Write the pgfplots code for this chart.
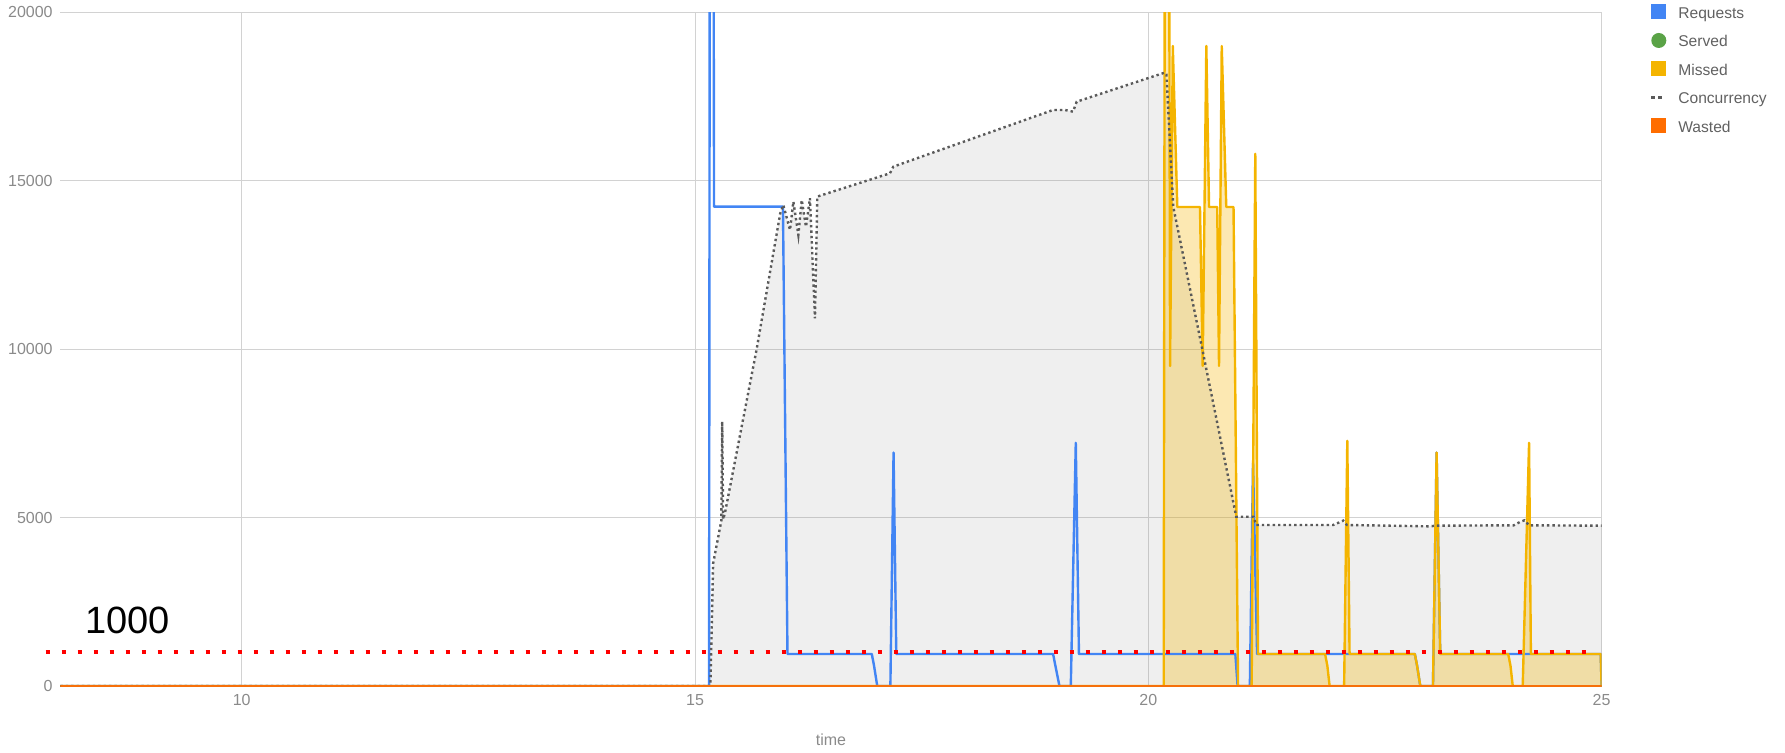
\documentclass[border=0pt]{standalone}
\usepackage{fontspec}
\setmainfont{Liberation Sans}
\usepackage{pgfplots}
\usepackage{pgfplotstable}
\pgfplotsset{compat=1.18}

\definecolor{reqblue}{HTML}{4285F4}
\definecolor{servgreen}{HTML}{5AA347}
\definecolor{missyellow}{HTML}{F4B400}
\definecolor{concgray}{HTML}{5A5A5A}
\definecolor{wasteorange}{HTML}{FF6D00}
\definecolor{gridgray}{HTML}{D2D2D2}
\definecolor{ticktext}{HTML}{8A8A8A}
\definecolor{legtext}{HTML}{616161}

% Requests per time step
\pgfplotstableread{
t v
8 0
15.155 0
15.165 30000
15.2 30000
15.21 14230
15.97 14230
16.02 950
16.95 950
16.975 600
17.01 0
17.155 0
17.19 6930
17.22 950
18.95 950
18.975 600
19.02 0
19.145 0
19.2 7220
19.235 950
20.96 950
20.985 0
21.12 0
21.155 6620
21.2 950
22.94 950
22.965 600
23.0 0
23.14 0
23.18 6930
23.22 950
24.99 950
25 0
}\requests

% Missed requests
\pgfplotstableread{
t v
8 0
20.17 0
20.185 30000
20.225 30000
20.24 9500
20.27 19000
20.32 14220
20.57 14220
20.6 9500
20.64 19000
20.67 14220
20.76 14220
20.78 9500
20.81 19000
20.86 14220
20.94 14220
20.99 0
21.14 0
21.18 15800
21.21 950
21.95 950
21.975 600
22.0 0
22.16 0
22.195 7280
22.22 950
22.94 950
22.965 600
23.0 0
23.14 0
23.18 6930
23.22 950
23.97 950
23.995 600
24.02 0
24.13 0
24.2 7220
24.22 950
24.99 950
25 0
}\missed

% Concurrency
\pgfplotstableread{
t v
8 0
15.17 0
15.2 3640
15.29 4900
15.3 7850
15.31 4950
15.33 5130
15.68 10000
15.94 14030
15.974 14280
16.048 13540
16.085 14380
16.14 13390
16.177 14430
16.224 13635
16.268 14480
16.323 10915
16.349 14530
17.15 15220
17.187 15417
18.95 17100
19.08 17100
19.17 17050
19.21 17346
20.18 18208
20.2 18150
20.275 14229
20.59 10073
20.97 5026
21.16 5026
21.19 4780
22.04 4780
22.1 4850
22.15 4910
22.19 4780
23.1 4740
23.18 4760
24.03 4770
24.1 4870
24.15 4920
24.2 4770
25 4760
}\concurrency

\begin{document}
\begin{tikzpicture}
\useasboundingbox (-30.2pt,-33pt) rectangle (862.3pt,343pt);
\begin{axis}[
  at={(0pt,0pt)}, anchor=south west, scale only axis,
  width=770.6pt, height=336.85pt,
  xmin=8, xmax=25, ymin=0, ymax=20000,
  xtick={10,15,20,25}, ytick={0,5000,10000,15000,20000},
  grid=major, major grid style={gridgray, line width=0.5pt},
  axis line style={draw=none}, tick style={draw=none}, major tick length=0pt,
  scaled y ticks=false,
  /pgf/number format/1000 sep={},
  /pgf/number format/assume math mode=true,
  tick label style={font=\fontsize{8}{9}\selectfont, text=ticktext},
  yticklabel style={anchor=east, inner sep=0pt, xshift=-3.7pt},
  xticklabel style={anchor=base, inner sep=0pt, yshift=-9.9pt},
  xlabel={time},
  xlabel style={at={(axis description cs:0.5,0)}, anchor=base, yshift=-29.8pt,
    inner sep=0pt, font=\fontsize{8}{9}\selectfont, text=ticktext},
  legend style={at={(1.032,1.0122)}, anchor=north west, draw=none, fill=none,
    inner sep=0pt, row sep=5.35pt, font=\fontsize{7.8}{9}\selectfont, text=legtext,
    nodes={inner sep=0pt, text height=6pt, text depth=2pt},
    /tikz/every odd column/.append style={column sep=6pt}},
  legend cell align=left,
]
% legend entries (every symbol keeps the same 7.5pt box)
\addlegendimage{legend image code/.code={\fill[reqblue, draw=none] (0pt,-2.6pt) rectangle (7.5pt,4.9pt);}}
\addlegendentry{Requests}
\addlegendimage{legend image code/.code={\path[draw=none, fill=none] (0pt,-2.6pt) rectangle (7.5pt,4.9pt); \fill[servgreen, draw=none] (3.75pt,1.15pt) circle[radius=3.75pt];}}
\addlegendentry{Served}
\addlegendimage{legend image code/.code={\fill[missyellow, draw=none] (0pt,-2.6pt) rectangle (7.5pt,4.9pt);}}
\addlegendentry{Missed}
\addlegendimage{legend image code/.code={\path[draw=none, fill=none] (0pt,-2.6pt) rectangle (7.5pt,4.9pt); \fill[concgray, draw=none] (0pt,0.3pt) rectangle (1.7pt,2pt); \fill[concgray, draw=none] (3.4pt,0.3pt) rectangle (5.1pt,2pt);}}
\addlegendentry{Concurrency}
\addlegendimage{legend image code/.code={\fill[wasteorange, draw=none] (0pt,-2.6pt) rectangle (7.5pt,4.9pt);}}
\addlegendentry{Wasted}

% areas
\addplot[forget plot, draw=none, fill=gray, fill opacity=0.13] table[x=t,y=v] {\concurrency} \closedcycle;
\addplot[forget plot, draw=none, fill=missyellow, fill opacity=0.3] table[x=t,y=v] {\missed} \closedcycle;

% lines
\addplot[forget plot, reqblue, line width=1.2pt, line join=round] table[x=t,y=v] {\requests};
\addplot[forget plot, servgreen, line width=0.8pt] coordinates {(8,0) (25,0)};
\addplot[forget plot, missyellow, line width=1.2pt, line join=round] table[x=t,y=v] {\missed};
\addplot[forget plot, concgray, line width=1.2pt, dash pattern=on 1.2pt off 1.5pt] table[x=t,y=v] {\concurrency};
\addplot[forget plot, wasteorange!85!brown, line width=0.8pt] coordinates {(8,0) (25,0)};
\end{axis}

% threshold annotation, drawn unclipped over the same axis frame
\begin{axis}[
  at={(0pt,0pt)}, anchor=south west, scale only axis,
  width=770.6pt, height=336.85pt,
  xmin=8, xmax=25, ymin=0, ymax=20000,
  hide axis, clip=false,
]
\addplot[red, line width=2pt, dash pattern=on 2pt off 6pt] coordinates {(7.837,1000) (24.85,1000)};
\node[font=\fontsize{19}{19}\selectfont, text=black, inner sep=0pt] at (axis cs:8.742,1950) {1000};
\end{axis}
\end{tikzpicture}
\end{document}
